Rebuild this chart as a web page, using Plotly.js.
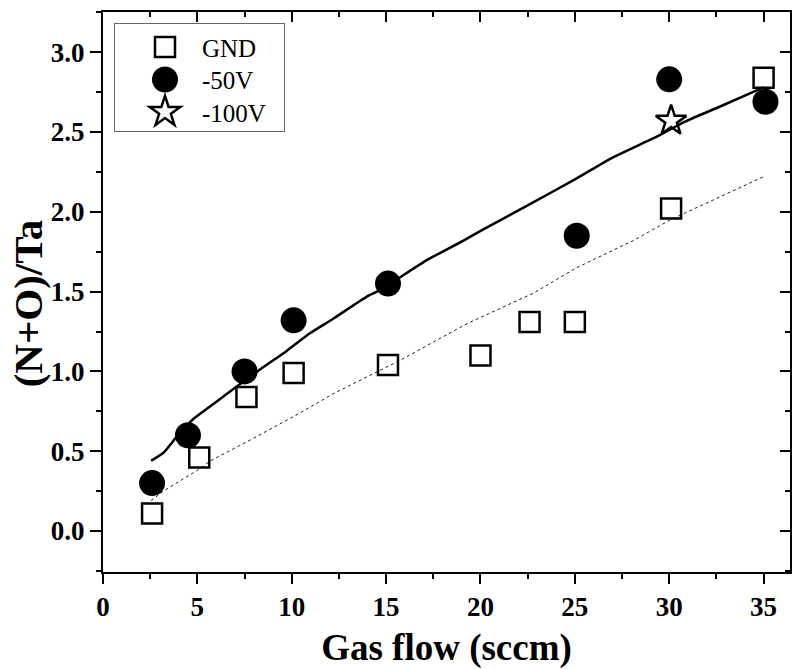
<!DOCTYPE html>
<html>
<head>
<meta charset="utf-8">
<script src="https://cdn.plot.ly/plotly-3.0.1.min.js"></script>
<style>
  html, body { margin: 0; padding: 0; background: #fff; }
  #chart { width: 793px; height: 669px; }
</style>
</head>
<body>
<div id="chart"></div>
<script>
// Measured composition ratio vs. gas flow for three substrate bias conditions
const gndFlow = [2.6, 5.1, 7.6, 10.1, 15.1, 20.0, 22.6, 25.0, 30.1, 35.0];
const gndRatio = [0.11, 0.46, 0.84, 0.99, 1.04, 1.10, 1.31, 1.31, 2.02, 2.84];

const bias50Flow = [2.6, 4.5, 7.5, 10.1, 15.1, 25.1, 30.0, 35.1];
const bias50Ratio = [0.30, 0.60, 1.00, 1.32, 1.55, 1.85, 2.83, 2.69];

const bias100Flow = [30.1];
const bias100Ratio = [2.57];

// Trend curves
const trend50Flow = [2.55, 3.2, 3.9, 4.77, 5.67, 6.57, 8.3, 9.75, 10.98, 12.2, 14.0, 14.85,
  15.75, 17.2, 19.1, 20.15, 22.5, 25.1, 27.0, 29.5, 30.75, 32.7, 35.0];
const trend50Ratio = [0.44, 0.49, 0.59, 0.70, 0.78, 0.86, 1.01, 1.13, 1.24, 1.33, 1.47, 1.52,
  1.59, 1.70, 1.82, 1.89, 2.04, 2.21, 2.34, 2.48, 2.56, 2.66, 2.78];

const trendGndFlow = [2.55, 3.2, 5.0, 5.7, 7.8, 10.45, 12.2, 15.75, 19.3, 22.8, 25.1, 28.1, 30.06, 35.0];
const trendGndRatio = [0.19, 0.25, 0.38, 0.44, 0.57, 0.74, 0.86, 1.07, 1.30, 1.49, 1.65, 1.82, 1.95, 2.22];

const xTicks = [0, 5, 10, 15, 20, 25, 30, 35];
const yTicks = [0.0, 0.5, 1.0, 1.5, 2.0, 2.5, 3.0];
const yTickText = ['0.0', '0.5', '1.0', '1.5', '2.0', '2.5', '3.0'];

const serif = '"Liberation Serif", "Times New Roman", serif';
const xRange = [0, 36.4];
const yRange = [-0.257, 3.252];

const traces = [
  {
    x: trendGndFlow, y: trendGndRatio, mode: 'lines', showlegend: false, hoverinfo: 'skip',
    line: { color: '#222', width: 1, dash: '3px,3px' }
  },
  {
    x: trend50Flow, y: trend50Ratio, mode: 'lines', showlegend: false, hoverinfo: 'skip',
    line: { color: '#000', width: 2.5, shape: 'spline', smoothing: 0.6 }
  },
  {
    x: gndFlow, y: gndRatio, mode: 'markers', name: 'GND',
    marker: { symbol: 'square-open', size: 20, color: '#000', line: { width: 2.5, color: '#000' } }
  },
  {
    x: bias50Flow, y: bias50Ratio, mode: 'markers', name: '-50V',
    marker: { symbol: 'circle', size: 26, color: '#000', line: { width: 0 } }
  },
  {
    x: bias100Flow, y: bias100Ratio, mode: 'markers', name: '-100V',
    marker: { symbol: 'star-open', size: 23, color: '#000', line: { width: 2.5, color: '#000' } }
  }
];

const axisCommon = {
  showgrid: false, zeroline: false, showline: true, linecolor: '#000', linewidth: 2,
  tickcolor: '#000', tickwidth: 2
};

const layout = {
  width: 793, height: 669,
  margin: { l: 103, r: 3, t: 12, b: 97 },
  paper_bgcolor: '#fff', plot_bgcolor: '#fff',
  font: { family: serif, color: '#000' },
  showlegend: true,
  legend: {
    x: 0.016, y: 0.98, xanchor: 'left', yanchor: 'top',
    bgcolor: '#fff', bordercolor: '#666', borderwidth: 1,
    font: { family: serif, size: 25, color: '#000' },
    itemwidth: 77, tracegroupgap: 0
  },
  xaxis: Object.assign({}, axisCommon, {
    range: xRange, tickmode: 'array', tickvals: xTicks,
    ticks: 'outside', ticklen: 10,
    minor: { ticks: 'outside', ticklen: 5, dtick: 2.5, tick0: 0, tickcolor: '#000', tickwidth: 2 },
    tickfont: { family: serif, size: 27, weight: 'bold' },
    title: { text: 'Gas flow (sccm)', font: { family: serif, size: 37, weight: 'bold' }, standoff: 18 }
  }),
  yaxis: Object.assign({}, axisCommon, {
    range: yRange, tickmode: 'array', tickvals: yTicks, ticktext: yTickText,
    ticks: 'outside', ticklen: 11,
    minor: { ticks: 'outside', ticklen: 5, dtick: 0.25, tick0: 0, tickcolor: '#000', tickwidth: 2 },
    tickfont: { family: serif, size: 27, weight: 'bold' }
  }),
  // Mirror axes on top and right with inward ticks
  xaxis2: Object.assign({}, axisCommon, {
    overlaying: 'x', side: 'top', range: xRange, tickmode: 'array', tickvals: xTicks,
    ticks: 'inside', ticklen: 10, showticklabels: false,
    minor: { ticks: 'inside', ticklen: 5, dtick: 2.5, tick0: 0, tickcolor: '#000', tickwidth: 2 }
  }),
  yaxis2: Object.assign({}, axisCommon, {
    overlaying: 'y', side: 'right', range: yRange, tickmode: 'array', tickvals: yTicks,
    ticks: 'inside', ticklen: 10, showticklabels: false,
    minor: { ticks: 'inside', ticklen: 5, dtick: 0.25, tick0: 0, tickcolor: '#000', tickwidth: 2 }
  }),
  // Y-axis title, set slightly below the plot's vertical centre
  annotations: [{
    text: '(N+O)/Ta', textangle: -90, showarrow: false,
    xref: 'paper', yref: 'paper', x: -0.109, y: 0.48, xanchor: 'center', yanchor: 'middle',
    font: { family: serif, size: 41, weight: 'bold', color: '#000' }
  }]
};

// Invisible trace to activate the mirror axes
traces.push({ x: [], y: [], xaxis: 'x2', yaxis: 'y2', showlegend: false, hoverinfo: 'skip', mode: 'markers' });

Plotly.newPlot('chart', traces, layout, { staticPlot: true }).then(function (gd) {
  // Legend symbols drawn at the same size as the plotted markers
  const scales = { 'GND': 20 / 16, '-50V': 26 / 16, '-100V': 23 / 16 };
  const items = gd.querySelectorAll('.legend .traces');
  let y0 = null;
  items.forEach(function (tr, i) {
    const m = /translate\(\s*([-\d.]+)[ ,]+([-\d.]+)\s*\)/.exec(tr.getAttribute('transform') || '');
    if (m) {
      if (y0 === null) y0 = parseFloat(m[2]);
      tr.setAttribute('transform', 'translate(' + m[1] + ',' + (y0 + i * 32.5) + ')');
    }
    const label = tr.querySelector('.legendtext');
    const s = scales[label ? label.textContent : ''];
    if (!s) return;
    tr.querySelectorAll('.legendpoints path.scatterpts').forEach(function (p) {
      const t = p.getAttribute('transform') || '';
      p.setAttribute('transform', 'translate(6.5,0) ' + t + ' scale(' + s + ')');
      p.style.strokeWidth = (2.5 / s) + 'px';
    });
  });
  const bg = gd.querySelector('.legend rect.bg');
  if (bg) { bg.setAttribute('width', 170); bg.setAttribute('height', 108); }
});
</script>
</body>
</html>
